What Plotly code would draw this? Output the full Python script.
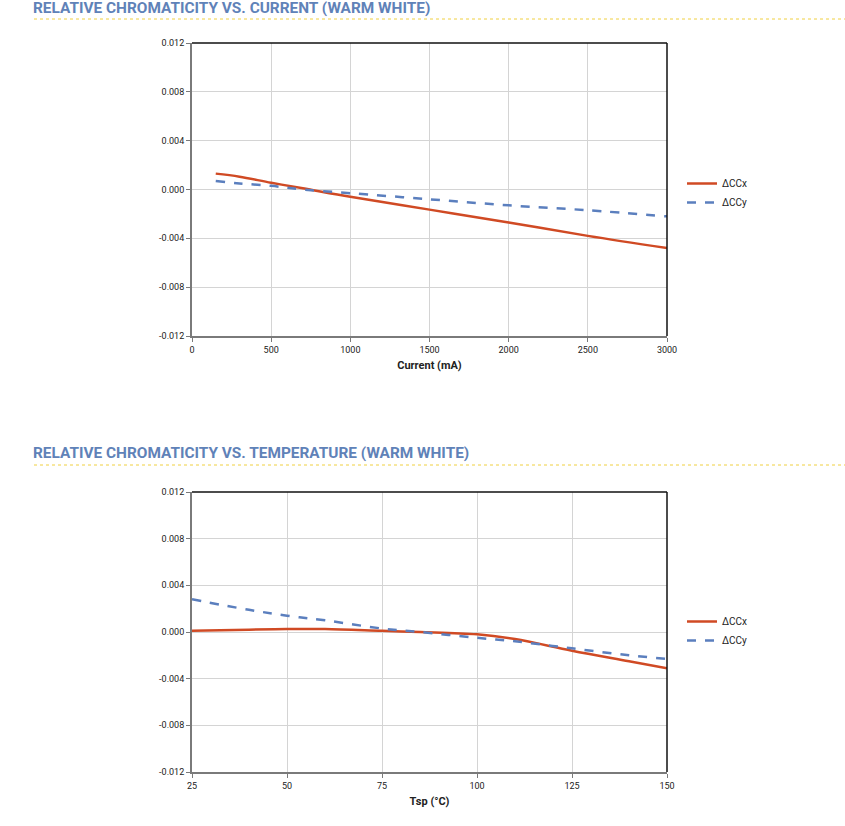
import plotly.graph_objects as go

# ---- data ----
current_ma = [150, 300, 500, 700, 1000, 1500, 2000, 2500, 3000]
cur_dccx = [0.0013, 0.00105, 0.00055, 0.0001, -0.0006, -0.00165, -0.0027, -0.0038, -0.0048]
cur_dccy = [0.0007, 0.0005, 0.0003, 0.0000, -0.0003, -0.0008, -0.0013, -0.0017, -0.0022]

temp_c = [25, 40, 50, 60, 75, 85, 100, 110, 125, 140, 150]
temp_dccx = [0.0001, 0.0002, 0.00025, 0.00025, 0.0001, 0.0, -0.0002, -0.0006, -0.0016, -0.0025, -0.0031]
temp_dccy = [0.0028, 0.0019, 0.0014, 0.0010, 0.0003, 0.0, -0.0005, -0.0008, -0.0014, -0.0020, -0.0023]

y_ticks = [-0.012, -0.008, -0.004, 0.0, 0.004, 0.008, 0.012]
y_ticktext = ["-0.012", "-0.008", "-0.004", "0.000", "0.004", "0.008", "0.012"]
cur_ticks = [0, 500, 1000, 1500, 2000, 2500, 3000]
temp_ticks = [25, 50, 75, 100, 125, 150]

titles = ["RELATIVE CHROMATICITY VS. CURRENT (WARM WHITE)",
          "RELATIVE CHROMATICITY VS. TEMPERATURE (WARM WHITE)"]
series_names = ["ΔCCx", "ΔCCy"]

RED = "#d04a24"
BLUE = "#5b7fbe"
TITLE_BLUE = "#5f82b8"
W, H = 845, 826
FONT = "Roboto, Arial, sans-serif"

def px_x(p):
    return p / W

def px_y(p):
    return 1 - p / H

fig = go.Figure()

fig.add_trace(go.Scatter(x=current_ma, y=cur_dccx, name=series_names[0], mode="lines",
                         line=dict(color=RED, width=2.5, shape="spline"), xaxis="x", yaxis="y", legend="legend"))
fig.add_trace(go.Scatter(x=current_ma, y=cur_dccy, name=series_names[1], mode="lines",
                         line=dict(color=BLUE, width=2.5, dash="dash", shape="spline"), xaxis="x", yaxis="y", legend="legend"))
fig.add_trace(go.Scatter(x=temp_c, y=temp_dccx, name=series_names[0], mode="lines",
                         line=dict(color=RED, width=2.5, shape="spline"), xaxis="x2", yaxis="y2", legend="legend2"))
fig.add_trace(go.Scatter(x=temp_c, y=temp_dccy, name=series_names[1], mode="lines",
                         line=dict(color=BLUE, width=2.5, dash="dash", shape="spline"), xaxis="x2", yaxis="y2", legend="legend2"))

xdom = [px_x(192), px_x(667)]
tickfont = dict(family=FONT, size=9, color="#222")
axis_common = dict(showline=True, linecolor="#7a7a7a", linewidth=2, ticks="outside", ticklen=4,
                   tickcolor="#7a7a7a", showgrid=True, gridcolor="#d4d4d4", gridwidth=1,
                   zeroline=False, tickfont=tickfont, automargin=False)
xtitle_font = dict(family=FONT, size=11, color="#222")

fig.update_layout(
    width=W, height=H,
    margin=dict(l=0, r=0, t=0, b=0, autoexpand=False),
    paper_bgcolor="white", plot_bgcolor="white",
    xaxis=dict(domain=xdom, range=[0, 3000], tickvals=cur_ticks, anchor="y",
               title=dict(text="<b>Current (mA)</b>", font=xtitle_font, standoff=8),
               **axis_common),
    yaxis=dict(domain=[px_y(336), px_y(43)], range=[-0.012, 0.012], tickvals=y_ticks, ticktext=y_ticktext,
               anchor="x", **axis_common),
    xaxis2=dict(domain=xdom, range=[25, 150], tickvals=temp_ticks, anchor="y2",
                title=dict(text="<b>Tsp (°C)</b>", font=xtitle_font, standoff=8),
                **axis_common),
    yaxis2=dict(domain=[px_y(772), px_y(492)], range=[-0.012, 0.012], tickvals=y_ticks, ticktext=y_ticktext,
                anchor="x2", **axis_common),
    legend=dict(x=px_x(682), y=px_y(169), xanchor="left", yanchor="top", bgcolor="rgba(0,0,0,0)",
                font=dict(family=FONT, size=10, color="#222"), itemwidth=30, tracegroupgap=0),
    legend2=dict(x=px_x(682), y=px_y(607), xanchor="left", yanchor="top", bgcolor="rgba(0,0,0,0)",
                 font=dict(family=FONT, size=10, color="#222"), itemwidth=30, tracegroupgap=0),
    showlegend=True,
)

# top / right frame in black
for xa, ya in [("x", "y"), ("x2", "y2")]:
    fig.add_shape(type="line", xref=f"{xa} domain", yref=f"{ya} domain", x0=0, x1=1, y0=1, y1=1,
                  line=dict(color="#111", width=1.5))
    fig.add_shape(type="line", xref=f"{xa} domain", yref=f"{ya} domain", x0=1, x1=1, y0=0, y1=1,
                  line=dict(color="#111", width=1.5))

# section titles with dashed yellow underline
for title, ty, ly in [(titles[0], 8, 19), (titles[1], 453, 465)]:
    fig.add_annotation(text=f"<b>{title}</b>", xref="paper", yref="paper", x=px_x(31), y=px_y(ty),
                       xanchor="left", yanchor="middle", showarrow=False,
                       font=dict(family=FONT, size=15.4, color=TITLE_BLUE))
    fig.add_shape(type="line", xref="paper", yref="paper", x0=px_x(34), x1=1, y0=px_y(ly), y1=px_y(ly),
                  line=dict(color="#f0d040", width=1, dash="dot"))

fig.write_html("out.html")
